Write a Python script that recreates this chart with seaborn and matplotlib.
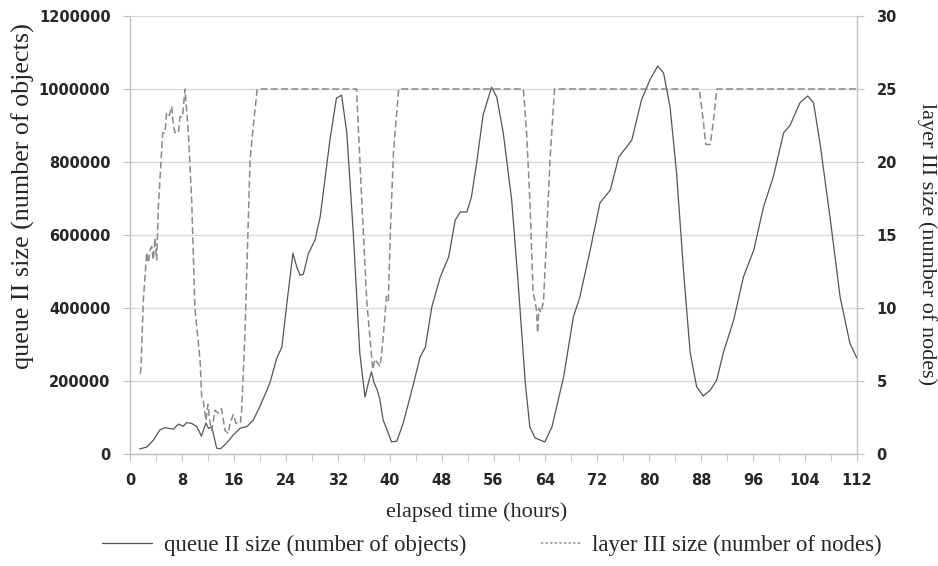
import matplotlib
matplotlib.use("Agg")
import matplotlib.pyplot as plt
from matplotlib.lines import Line2D
import seaborn as sns

# queue II size (left axis)
q_hours = [1.5, 2.6, 3.6, 4.6, 5.4, 6.7, 7.45, 8.2, 8.7, 9.5, 10.3, 11.0, 11.7, 12.1, 12.6,
           13.35, 13.9, 14.9, 15.9, 17.0, 18.0, 19.0, 20.0, 21.1, 21.6, 22.6, 23.4, 24.1, 25.1,
           25.7, 26.2, 26.7, 27.5, 28.5, 29.3, 30.8, 31.8, 32.6, 33.4, 34.4, 35.4, 36.2, 36.8,
           37.2, 37.6, 38.1, 38.5, 39.0, 39.6, 40.3, 41.1, 42.1, 43.7, 44.7, 45.5, 46.5, 47.8,
           49.1, 50.1, 50.9, 51.9, 52.6, 53.4, 54.4, 55.7, 56.5, 57.5, 58.8, 59.8, 60.9, 61.6,
           62.4, 63.9, 65.0, 66.8, 68.3, 69.3, 70.9, 72.4, 74.0, 75.3, 76.5, 77.3, 78.8, 80.1,
           81.3, 82.2, 83.2, 84.2, 85.3, 86.3, 87.3, 88.3, 89.4, 90.4, 91.4, 93.0, 94.5, 96.1,
           97.6, 99.1, 100.7, 101.7, 103.2, 104.4, 105.3, 106.3, 107.9, 109.4, 110.9, 112.0]
q_values = [14000, 19000, 38000, 66000, 72000, 68000, 82000, 76000, 86000, 84000, 75000, 49000,
            85000, 70000, 75000, 16000, 14000, 30000, 52000, 71000, 75000, 93000, 130000, 175000,
            198000, 262000, 293000, 403000, 550000, 512000, 490000, 492000, 550000, 586000,
            650000, 860000, 975000, 983000, 880000, 605000, 277000, 156000, 200000, 225000,
            195000, 175000, 148000, 93000, 66000, 33000, 35000, 85000, 194000, 266000, 293000,
            403000, 485000, 540000, 641000, 663000, 663000, 704000, 797000, 929000, 1005000,
            978000, 880000, 696000, 468000, 194000, 74000, 44000, 33000, 74000, 211000, 375000,
            430000, 559000, 688000, 723000, 814000, 841000, 860000, 970000, 1025000, 1063000,
            1044000, 951000, 770000, 496000, 277000, 184000, 159000, 175000, 203000, 277000,
            367000, 485000, 559000, 677000, 759000, 880000, 901000, 962000, 981000, 962000,
            852000, 641000, 430000, 304000, 262000]

# layer III size (right axis)
l_hours = [1.6, 1.7, 2.05, 2.57, 2.82, 3.1, 3.34, 3.6, 3.85, 4.11, 4.37, 5.03, 5.39, 5.65, 6.06,
           6.42, 6.68, 6.93, 7.45, 7.7, 8.1, 8.47, 8.99, 9.5, 10.0, 10.8, 11.04, 11.3, 11.7, 12.0,
           12.3, 12.6, 13.1, 13.6, 14.1, 14.64, 15.15, 15.4, 15.92, 16.33, 17.0, 17.2, 17.72,
           18.49, 19.0, 19.6, 34.9, 35.7, 36.47, 37.24, 37.4, 37.75, 38.5, 38.8, 39.1, 39.5,
           39.8, 40.1, 40.6, 41.4, 60.6, 61.1, 61.6, 62.1, 62.4, 62.6, 62.8, 63.0, 63.3, 63.7,
           64.2, 64.7, 65.4, 87.7, 88.3, 88.7, 89.4, 89.9, 90.4, 112.0]
l_values = [5.5, 6.0, 10.5, 13.8, 13.1, 14.0, 14.2, 13.3, 14.8, 13.3, 16.9, 22.0, 22.0, 23.4, 23.2,
            23.8, 22.5, 22.0, 22.0, 23.1, 23.1, 25.0, 22.0, 17.4, 10.0, 6.4, 3.9, 3.6, 2.3, 3.4,
            2.2, 1.6, 3.0, 2.8, 3.1, 1.6, 1.4, 2.1, 2.7, 2.1, 2.1, 3.0, 8.3, 20.1, 22.5, 25.0,
            25.0, 17.4, 10.5, 6.6, 5.8, 6.5, 6.0, 7.0, 8.5, 10.8, 10.5, 15.1, 20.8, 25.0, 25.0,
            22.0, 17.4, 11.0, 10.5, 9.9, 8.3, 10.0, 9.7, 10.4, 15.1, 20.1, 25.0, 25.0, 22.9, 21.2,
            21.2, 22.9, 25.0, 25.0]

x_ticks = list(range(0, 113, 8))
x_minor = list(range(0, 113, 4))
left_ticks = [0, 200000, 400000, 600000, 800000, 1000000, 1200000]
right_ticks = [0, 5, 10, 15, 20, 25, 30]

sns.set_style("white")
serif = "Liberation Serif"
tickfont = dict(family="DejaVu Sans", weight="bold", size=10.5)
axis_gray = "#bfbfbf"
solid_col = "#555555"
dash_col = "#8a8a8a"

fig = plt.figure(figsize=(9.38, 5.66), dpi=100)
ax = fig.add_axes([130 / 938, 1 - 454 / 566, 727 / 938, 438 / 566])
ax2 = ax.twinx()

sns.lineplot(x=q_hours, y=q_values, ax=ax, color=solid_col, linewidth=0.9, errorbar=None)
sns.lineplot(x=l_hours, y=l_values, ax=ax2, color=dash_col, linewidth=1.1,
             linestyle=(0, (4.5, 2.2)), errorbar=None)

ax.set_xlim(0, 112)
ax.set_ylim(0, 1200000)
ax2.set_ylim(0, 30)

ax.set_xticks(x_ticks)
ax.set_xticks(x_minor, minor=True)
ax.set_xticklabels([str(t) for t in x_ticks], fontdict=tickfont)
ax.set_yticks(left_ticks)
ax.set_yticklabels([str(t) for t in left_ticks], fontdict=tickfont)
ax2.set_yticks(right_ticks)
ax2.set_yticklabels([str(t) for t in right_ticks], fontdict=tickfont)

ax.yaxis.grid(True, color="#d9d9d9", linewidth=1.0)
ax.set_axisbelow(True)
for a in (ax, ax2):
    for s in a.spines.values():
        s.set_visible(False)
ax.spines["left"].set_visible(True)
ax.spines["bottom"].set_visible(True)
ax2.spines["right"].set_visible(True)
for s in (ax.spines["left"], ax.spines["bottom"], ax2.spines["right"]):
    s.set_color(axis_gray)
    s.set_linewidth(1.0)

ax.tick_params(axis="x", which="both", direction="out", length=5, color=axis_gray,
               bottom=True, pad=9)
ax.tick_params(axis="y", direction="out", length=5, color=axis_gray, left=True, pad=9)
ax2.tick_params(axis="y", direction="out", length=5, color=axis_gray, right=True, pad=9)

ax.set_xlabel("elapsed time (hours)", family=serif, fontsize=16)
ax.xaxis.set_label_coords((477 - 130) / 727, (454 - 512) / 438)
ax.xaxis.label.set_va("center")
ax.set_ylabel("queue II size (number of objects)", family=serif, fontsize=18.8)
ax.yaxis.set_label_coords((23 - 130) / 727, (454 - 196) / 438)
ax.yaxis.label.set_va("center")
ax2.set_ylabel("layer III size (number of nodes)", family=serif, fontsize=16, rotation=270)
ax2.yaxis.set_label_coords((927 - 130) / 727, (454 - 244) / 438)
ax2.yaxis.label.set_va("center")

# two legend entries placed separately, like the original
leg_y = 1 - 545 / 566
fig.legend([Line2D([], [], color=solid_col, linewidth=0.9)],
           ["queue II size (number of objects)"],
           loc="center left", bbox_to_anchor=(102 / 938, leg_y), frameon=False,
           prop=dict(family=serif, size=16.4), handlelength=2.2, handletextpad=0.5,
           borderpad=0, borderaxespad=0)
fig.legend([Line2D([], [], color=dash_col, linewidth=1.1, linestyle=(0, (1.5, 1.5)))],
           ["layer III size (number of nodes)"],
           loc="center left", bbox_to_anchor=(541 / 938, leg_y), frameon=False,
           prop=dict(family=serif, size=16.4), handlelength=1.8, handletextpad=0.45,
           borderpad=0, borderaxespad=0)

fig.savefig("out.png", dpi=100)
